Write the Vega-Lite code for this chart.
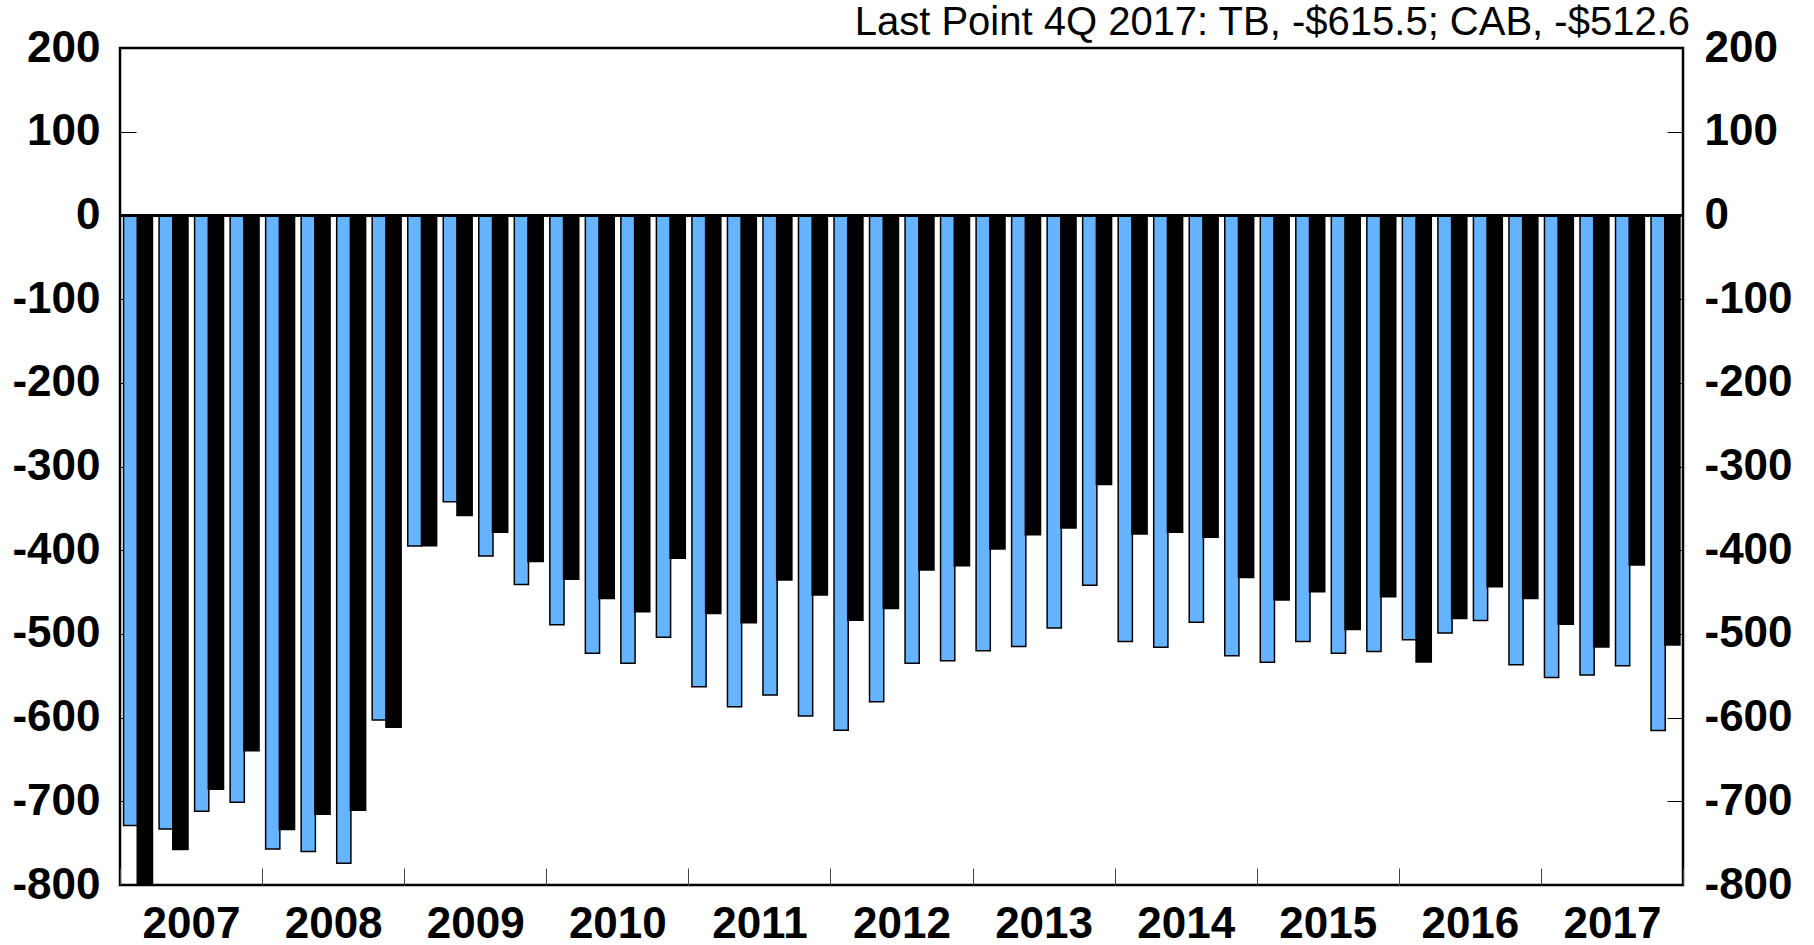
{
  "$schema": "https://vega.github.io/schema/vega-lite/v6.json",
  "width": 1563,
  "height": 837,
  "autosize": "none",
  "padding": {"left": 120, "top": 48, "right": 131, "bottom": 60},
  "background": "white",
  "config": {"view": {"stroke": "black", "strokeWidth": 2.5}, "font": "Liberation Sans"},
  "title": {"text": "Last Point 4Q 2017: TB, -$615.5; CAB, -$512.6", "anchor": "end", "frame": "group", "orient": "top", "fontSize": 40, "fontWeight": "normal", "font": "Liberation Sans", "color": "black", "baseline": "alphabetic", "offset": -49, "dx": 7},
  "data": {"values": [
    {"q":"2007Q1","year":"2007","s":"TB","v":-729},{"q":"2007Q1","year":"2007","s":"CAB","v":-800},
    {"q":"2007Q2","year":"2007","s":"TB","v":-733},{"q":"2007Q2","year":"2007","s":"CAB","v":-757},
    {"q":"2007Q3","year":"2007","s":"TB","v":-712},{"q":"2007Q3","year":"2007","s":"CAB","v":-685},
    {"q":"2007Q4","year":"2007","s":"TB","v":-701},{"q":"2007Q4","year":"2007","s":"CAB","v":-639},
    {"q":"2008Q1","year":"2008","s":"TB","v":-757},{"q":"2008Q1","year":"2008","s":"CAB","v":-733},
    {"q":"2008Q2","year":"2008","s":"TB","v":-760},{"q":"2008Q2","year":"2008","s":"CAB","v":-715},
    {"q":"2008Q3","year":"2008","s":"TB","v":-774},{"q":"2008Q3","year":"2008","s":"CAB","v":-710},
    {"q":"2008Q4","year":"2008","s":"TB","v":-603},{"q":"2008Q4","year":"2008","s":"CAB","v":-611},
    {"q":"2009Q1","year":"2009","s":"TB","v":-395},{"q":"2009Q1","year":"2009","s":"CAB","v":-394},
    {"q":"2009Q2","year":"2009","s":"TB","v":-342},{"q":"2009Q2","year":"2009","s":"CAB","v":-358},
    {"q":"2009Q3","year":"2009","s":"TB","v":-407},{"q":"2009Q3","year":"2009","s":"CAB","v":-378},
    {"q":"2009Q4","year":"2009","s":"TB","v":-441},{"q":"2009Q4","year":"2009","s":"CAB","v":-413},
    {"q":"2010Q1","year":"2010","s":"TB","v":-489},{"q":"2010Q1","year":"2010","s":"CAB","v":-434},
    {"q":"2010Q2","year":"2010","s":"TB","v":-523},{"q":"2010Q2","year":"2010","s":"CAB","v":-457},
    {"q":"2010Q3","year":"2010","s":"TB","v":-535},{"q":"2010Q3","year":"2010","s":"CAB","v":-473},
    {"q":"2010Q4","year":"2010","s":"TB","v":-504},{"q":"2010Q4","year":"2010","s":"CAB","v":-409},
    {"q":"2011Q1","year":"2011","s":"TB","v":-563},{"q":"2011Q1","year":"2011","s":"CAB","v":-475},
    {"q":"2011Q2","year":"2011","s":"TB","v":-587},{"q":"2011Q2","year":"2011","s":"CAB","v":-486},
    {"q":"2011Q3","year":"2011","s":"TB","v":-573},{"q":"2011Q3","year":"2011","s":"CAB","v":-435},
    {"q":"2011Q4","year":"2011","s":"TB","v":-598},{"q":"2011Q4","year":"2011","s":"CAB","v":-453},
    {"q":"2012Q1","year":"2012","s":"TB","v":-615},{"q":"2012Q1","year":"2012","s":"CAB","v":-483},
    {"q":"2012Q2","year":"2012","s":"TB","v":-581},{"q":"2012Q2","year":"2012","s":"CAB","v":-469},
    {"q":"2012Q3","year":"2012","s":"TB","v":-535},{"q":"2012Q3","year":"2012","s":"CAB","v":-423},
    {"q":"2012Q4","year":"2012","s":"TB","v":-532},{"q":"2012Q4","year":"2012","s":"CAB","v":-418},
    {"q":"2013Q1","year":"2013","s":"TB","v":-520},{"q":"2013Q1","year":"2013","s":"CAB","v":-398},
    {"q":"2013Q2","year":"2013","s":"TB","v":-515},{"q":"2013Q2","year":"2013","s":"CAB","v":-381},
    {"q":"2013Q3","year":"2013","s":"TB","v":-493},{"q":"2013Q3","year":"2013","s":"CAB","v":-373},
    {"q":"2013Q4","year":"2013","s":"TB","v":-442},{"q":"2013Q4","year":"2013","s":"CAB","v":-321},
    {"q":"2014Q1","year":"2014","s":"TB","v":-509},{"q":"2014Q1","year":"2014","s":"CAB","v":-380},
    {"q":"2014Q2","year":"2014","s":"TB","v":-516},{"q":"2014Q2","year":"2014","s":"CAB","v":-378},
    {"q":"2014Q3","year":"2014","s":"TB","v":-486},{"q":"2014Q3","year":"2014","s":"CAB","v":-384},
    {"q":"2014Q4","year":"2014","s":"TB","v":-526},{"q":"2014Q4","year":"2014","s":"CAB","v":-432},
    {"q":"2015Q1","year":"2015","s":"TB","v":-534},{"q":"2015Q1","year":"2015","s":"CAB","v":-459},
    {"q":"2015Q2","year":"2015","s":"TB","v":-509},{"q":"2015Q2","year":"2015","s":"CAB","v":-449},
    {"q":"2015Q3","year":"2015","s":"TB","v":-523},{"q":"2015Q3","year":"2015","s":"CAB","v":-494},
    {"q":"2015Q4","year":"2015","s":"TB","v":-521},{"q":"2015Q4","year":"2015","s":"CAB","v":-455},
    {"q":"2016Q1","year":"2016","s":"TB","v":-507},{"q":"2016Q1","year":"2016","s":"CAB","v":-533},
    {"q":"2016Q2","year":"2016","s":"TB","v":-499},{"q":"2016Q2","year":"2016","s":"CAB","v":-481},
    {"q":"2016Q3","year":"2016","s":"TB","v":-484},{"q":"2016Q3","year":"2016","s":"CAB","v":-443},
    {"q":"2016Q4","year":"2016","s":"TB","v":-537},{"q":"2016Q4","year":"2016","s":"CAB","v":-457},
    {"q":"2017Q1","year":"2017","s":"TB","v":-552},{"q":"2017Q1","year":"2017","s":"CAB","v":-488},
    {"q":"2017Q2","year":"2017","s":"TB","v":-549},{"q":"2017Q2","year":"2017","s":"CAB","v":-515},
    {"q":"2017Q3","year":"2017","s":"TB","v":-538},{"q":"2017Q3","year":"2017","s":"CAB","v":-417},
    {"q":"2017Q4","year":"2017","s":"TB","v":-615.5},{"q":"2017Q4","year":"2017","s":"CAB","v":-512.6}
  ]},
  "layer": [
    {
      "mark": {"type": "bar", "stroke": "black", "clip": true},
      "encoding": {
        "x": {"field": "q", "type": "ordinal", "sort": null, "scale": {"paddingInner": 0.2, "paddingOuter": 0.1}, "axis": null},
        "xOffset": {"field": "s", "type": "nominal", "sort": ["TB", "CAB"], "scale": {"domain": ["TB", "CAB"], "paddingInner": 0, "paddingOuter": 0}},
        "y": {"field": "v", "type": "quantitative", "scale": {"domain": [-800, 200], "nice": false, "zero": false},
          "axis": {"orient": "left", "values": [-800, -700, -600, -500, -400, -300, -200, -100, 0, 100, 200], "tickSize": -16, "tickColor": "black", "tickWidth": 1, "domain": false, "grid": false, "labelFontSize": 44, "labelFontWeight": "bold", "labelFont": "Liberation Sans", "labelColor": "black", "labelPadding": 36, "labelFlush": false, "labelOverlap": false, "labelBound": false, "title": null, "labelExpr": "datum.value < 0 ? '-' + abs(datum.value) : '' + datum.value"}},
        "color": {"field": "s", "type": "nominal", "scale": {"domain": ["TB", "CAB"], "range": ["#66b3ff", "#000000"]}, "legend": null},
        "strokeWidth": {"field": "s", "type": "nominal", "scale": {"domain": ["TB", "CAB"], "range": [1.5, 2.5]}, "legend": null}
      }
    },
    {
      "mark": {"type": "rule", "opacity": 0},
      "encoding": {
        "x": {"field": "year", "type": "ordinal", "sort": null, "scale": {"type": "band", "paddingInner": 0, "paddingOuter": 0},
          "axis": {"orient": "bottom", "tickBand": "extent", "tickSize": -17, "tickColor": "#444444", "tickWidth": 1, "domain": false, "grid": false, "labelFontSize": 44, "labelFontWeight": "bold", "labelFont": "Liberation Sans", "labelColor": "black", "labelAngle": 0, "labelPadding": 34, "labelOverlap": false, "title": null}}
      }
    },
    {
      "mark": {"type": "rule", "color": "black", "strokeWidth": 2.5},
      "encoding": {
        "y": {"datum": 0, "type": "quantitative", "scale": {"domain": [-800, 200], "nice": false, "zero": false},
          "axis": {"orient": "right", "values": [-800, -700, -600, -500, -400, -300, -200, -100, 0, 100, 200], "tickSize": -16, "tickColor": "black", "tickWidth": 1, "domain": false, "grid": false, "labelFontSize": 44, "labelFontWeight": "bold", "labelFont": "Liberation Sans", "labelColor": "black", "labelPadding": 37, "labelFlush": false, "labelOverlap": false, "labelBound": false, "title": null, "labelExpr": "datum.value < 0 ? '-' + abs(datum.value) : '' + datum.value"}}
      }
    }
  ],
  "resolve": {"scale": {"x": "independent"}, "axis": {"y": "independent"}}
}
